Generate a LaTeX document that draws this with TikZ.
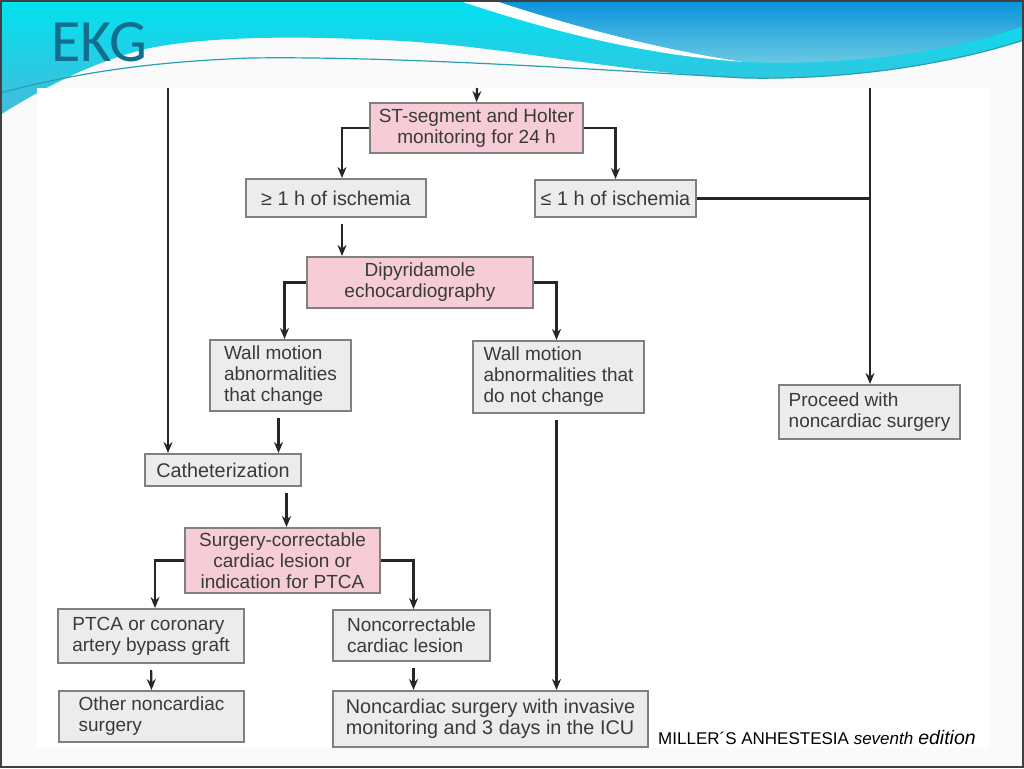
\documentclass[tikz,border=0pt]{standalone}
\usepackage{fontspec}
\setmainfont{Liberation Sans}
\newfontfamily\titlefont{Carlito}
\usetikzlibrary{arrows.meta, calc}

\definecolor{pinkfill}{RGB}{246,204,214}
\definecolor{grayfill}{RGB}{236,236,236}
\definecolor{boxline}{RGB}{128,128,128}
\definecolor{boxtext}{RGB}{58,58,58}
\definecolor{wavecyan}{RGB}{0,226,240}
\definecolor{wavecyanlow}{RGB}{70,186,218}
\definecolor{waveblue}{RGB}{8,146,220}
\definecolor{waveblue2}{RGB}{110,204,226}
\definecolor{waveline}{RGB}{40,160,176}
\definecolor{titleteal}{RGB}{18,110,140}

\newcommand{\flowfont}{\fontsize{19}{21}\selectfont}
\newcommand{\flowfontbig}{\fontsize{19.8}{21}\selectfont}

\tikzset{
  pinkbox/.style={
    rectangle, draw=boxline, line width=2pt, fill=pinkfill,
    text=boxtext, font=\flowfont, align=center, inner sep=3pt
  },
  graybox/.style={
    pinkbox, fill=grayfill
  },
  bigtext/.style={
    font=\flowfontbig
  },
  arrow/.style={
    -{Stealth[length=11pt,width=9pt]}, line width=2.2pt, color=black!85
  },
  link/.style={
    line width=2.2pt, color=black!85
  },
  gap/.style={
    shorten <=6pt
  }
}

\begin{document}
\begin{tikzpicture}[x=1pt, y=-1pt]
  \useasboundingbox (0,0) rectangle (1024,768);

  % Slide background and header waves
  \fill[gray!4] (0,0) rectangle (1024,768);
  \shade[top color=wavecyan, bottom color=wavecyanlow]
    (0,0) -- (1024,0) -- (1024,40)
    .. controls (950,64) and (850,80) .. (745,78)
    .. controls (620,74) and (500,44) .. (380,40)
    .. controls (280,35) and (200,38) .. (150,48)
    .. controls (90,62) and (40,90) .. (0,115) -- cycle;
  \fill[white] (457,0) -- (493,0)
    .. controls (560,22) and (650,48) .. (745,62)
    .. controls (640,55) and (540,28) .. (457,0) -- cycle;
  \shade[top color=waveblue, bottom color=waveblue2]
    (493,0) -- (1024,0) -- (1024,26)
    .. controls (950,52) and (850,66) .. (745,62)
    .. controls (650,48) and (560,22) .. (493,0) -- cycle;
  \draw[waveline, line width=1.2pt] (0,93)
    .. controls (80,72) and (150,62) .. (250,58)
    .. controls (400,56) and (600,70) .. (745,78)
    .. controls (850,80) and (950,64) .. (1024,40);

  % Figure area
  \fill[white] (37,88) rectangle (990,748);

  % Title
  \node[anchor=base west, inner sep=0pt, text=titleteal,
        font=\titlefont\fontsize{60}{60}\selectfont] (title) at (51,62) {EKG};

  % Boxes
  \node[pinkbox, minimum width=213, minimum height=50] (st) at (476.5,128)
    {ST-segment and Holter\\monitoring for 24 h};
  \node[graybox, bigtext, minimum width=180, minimum height=38] (ge) at (336,198)
    {≥ 1 h of ischemia};
  \node[graybox, bigtext, minimum width=161, minimum height=37] (le) at (615.5,198.5)
    {≤ 1 h of ischemia};
  \node[pinkbox, minimum width=226, minimum height=51] (dip) at (420,282.5)
    {Dipyridamole\\echocardiography};
  \node[graybox, align=left, minimum width=141, minimum height=71] (wmc) at (280.5,375.5)
    {Wall motion\\abnormalities\\that change};
  \node[graybox, align=left, minimum width=171, minimum height=72] (wmn) at (558.5,377)
    {Wall motion\\abnormalities that\\do not change};
  \node[graybox, align=left, minimum width=181, minimum height=54] (proc) at (869.5,412)
    {Proceed with\\noncardiac surgery};
  \node[graybox, bigtext, minimum width=156, minimum height=32] (cath) at (223,470)
    {Catheterization};
  \node[pinkbox, minimum width=195, minimum height=65] (surg) at (282.5,560.5)
    {Surgery-correctable\\cardiac lesion or\\indication for PTCA};
  \node[graybox, align=left, minimum width=186, minimum height=54] (ptca) at (151,636)
    {PTCA or coronary\\artery bypass graft};
  \node[graybox, align=left, minimum width=157, minimum height=51] (nonc) at (411.5,635.5)
    {Noncorrectable\\cardiac lesion};
  \node[graybox, align=left, minimum width=185, minimum height=51] (other) at (151.5,716.5)
    {Other noncardiac\\surgery};
  \node[graybox, bigtext, align=left, minimum width=315, minimum height=56] (inv) at (490.5,719)
    {Noncardiac surgery with invasive\\monitoring and 3 days in the ICU};

  % Free ends at the top of the figure
  \coordinate (topin) at (477,88);
  \coordinate (lefttop) at (168,88);
  \coordinate (righttop) at (870,88);

  % Connectors
  \draw[arrow] (topin) -- (st.north);
  \draw[arrow] (st.west) -| ([xshift=6]ge.north);
  \draw[arrow] (st.east) -| (le.north);
  \draw[link] (le.east) -- (le.east -| righttop);
  \draw[arrow] (righttop) -- (righttop |- proc.north);
  \draw[arrow] (lefttop) -- (lefttop |- cath.north);
  \draw[arrow, gap] ([xshift=6]ge.south) -- ([xshift=6]ge.south |- dip.north);
  \draw[arrow] (dip.west) -| ([xshift=4]wmc.north);
  \draw[arrow] (dip.east) -| ([xshift=-2]wmn.north);
  \draw[arrow, gap] ([xshift=-2]wmc.south) -- ([xshift=-2]wmc.south |- cath.north);
  \draw[arrow, gap] ([xshift=-2]wmn.south) -- ([xshift=-2]wmn.south |- inv.north);
  \draw[arrow, gap] ([xshift=4]surg.north |- cath.south) -- ([xshift=4]surg.north);
  \draw[arrow] (surg.west) -| ([xshift=4]ptca.north);
  \draw[arrow] (surg.east) -| ([xshift=2]nonc.north);
  \draw[arrow, gap] (ptca.south) -- (other.north);
  \draw[arrow, gap] ([xshift=2]nonc.south) -- ([xshift=2]nonc.south |- inv.north);

  % Source
  \node[anchor=base west, inner sep=0pt, font=\fontsize{17}{17}\selectfont] (source) at (658,744)
    {MILLER´S ANHESTESIA \textit{seventh}\hspace{5pt}{\fontsize{19.5}{19.5}\selectfont\textit{edition}}};

  % Slide frame
  \draw[gray!50!black, line width=2pt] (1,1) rectangle (1023,767);
\end{tikzpicture}
\end{document}
